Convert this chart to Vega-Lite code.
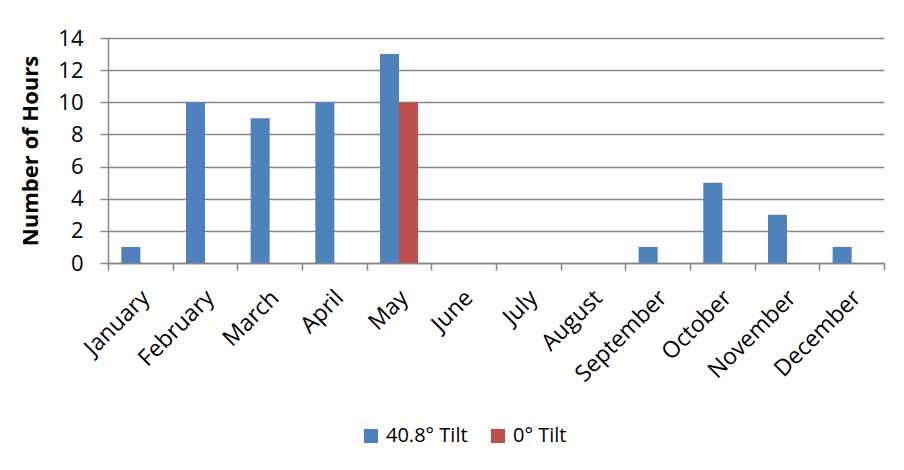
{
  "$schema": "https://vega.github.io/schema/vega-lite/v6.json",
  "width": 776,
  "height": 225,
  "autosize": {"type": "none"},
  "padding": {"left": 108, "top": 38, "right": 20, "bottom": 207},
  "background": "white",
  "config": {
    "view": {"stroke": null},
    "font": "Open Sans",
    "axis": {"labelFont": "Open Sans", "titleFont": "Open Sans", "labelColor": "#000000", "titleColor": "#000000"},
    "legend": {"labelFont": "Open Sans"}
  },
  "data": {
    "values": [
      {"month": "January", "series": "40.8° Tilt", "hours": 1},
      {"month": "February", "series": "40.8° Tilt", "hours": 10},
      {"month": "March", "series": "40.8° Tilt", "hours": 9},
      {"month": "April", "series": "40.8° Tilt", "hours": 10},
      {"month": "May", "series": "40.8° Tilt", "hours": 13},
      {"month": "June", "series": "40.8° Tilt", "hours": 0},
      {"month": "July", "series": "40.8° Tilt", "hours": 0},
      {"month": "August", "series": "40.8° Tilt", "hours": 0},
      {"month": "September", "series": "40.8° Tilt", "hours": 1},
      {"month": "October", "series": "40.8° Tilt", "hours": 5},
      {"month": "November", "series": "40.8° Tilt", "hours": 3},
      {"month": "December", "series": "40.8° Tilt", "hours": 1},
      {"month": "January", "series": "0° Tilt", "hours": 0},
      {"month": "February", "series": "0° Tilt", "hours": 0},
      {"month": "March", "series": "0° Tilt", "hours": 0},
      {"month": "April", "series": "0° Tilt", "hours": 0},
      {"month": "May", "series": "0° Tilt", "hours": 10},
      {"month": "June", "series": "0° Tilt", "hours": 0},
      {"month": "July", "series": "0° Tilt", "hours": 0},
      {"month": "August", "series": "0° Tilt", "hours": 0},
      {"month": "September", "series": "0° Tilt", "hours": 0},
      {"month": "October", "series": "0° Tilt", "hours": 0},
      {"month": "November", "series": "0° Tilt", "hours": 0},
      {"month": "December", "series": "0° Tilt", "hours": 0}
    ]
  },
  "mark": {"type": "bar"},
  "encoding": {
    "x": {
      "field": "month",
      "type": "nominal",
      "sort": ["January","February","March","April","May","June","July","August","September","October","November","December"],
      "scale": {"paddingInner": 0, "paddingOuter": 0},
      "axis": {
        "title": null,
        "labelAngle": -45,
        "labelAlign": "right",
        "labelBaseline": "middle",
        "labelFontSize": 23,
        "labelPadding": 24,
        "labelOffset": 5,
        "tickBand": "extent",
        "tickSize": 7,
        "tickColor": "#878787",
        "domainColor": "#878787",
        "tickWidth": 1.5,
        "domainWidth": 1.5,
        "grid": false
      }
    },
    "xOffset": {
      "field": "series",
      "type": "nominal",
      "sort": ["40.8° Tilt", "0° Tilt"],
      "scale": {"paddingInner": 0, "paddingOuter": 0.7}
    },
    "y": {
      "field": "hours",
      "type": "quantitative",
      "scale": {"domain": [0, 14], "nice": false},
      "axis": {
        "title": "Number of Hours",
        "titleFontSize": 22,
        "titleFontWeight": "bold",
        "titleX": -78,
        "titleY": 112.5,
        "titleAngle": -90,
        "titleAlign": "center",
        "titleBaseline": "middle",
        "values": [0, 2, 4, 6, 8, 10, 12, 14],
        "labelFontSize": 22,
        "labelPadding": 17,
        "tickSize": 8,
        "tickColor": "#878787",
        "domainColor": "#878787",
        "tickWidth": 1.5,
        "domainWidth": 1.5,
        "gridColor": "#878787",
        "gridWidth": 1.5,
        "grid": true
      }
    },
    "color": {
      "field": "series",
      "type": "nominal",
      "sort": ["40.8° Tilt", "0° Tilt"],
      "scale": {"domain": ["40.8° Tilt", "0° Tilt"], "range": ["#4F81BD", "#C0504D"]},
      "legend": {
        "title": null,
        "orient": "none",
        "direction": "horizontal",
        "legendX": 253,
        "legendY": 388,
        "symbolType": "square",
        "symbolSize": 196,
        "symbolStrokeWidth": 0,
        "symbolOpacity": 1,
        "labelFontSize": 20,
        "labelColor": "#000000",
        "labelOffset": 5,
        "columnPadding": 20
      }
    }
  }
}
